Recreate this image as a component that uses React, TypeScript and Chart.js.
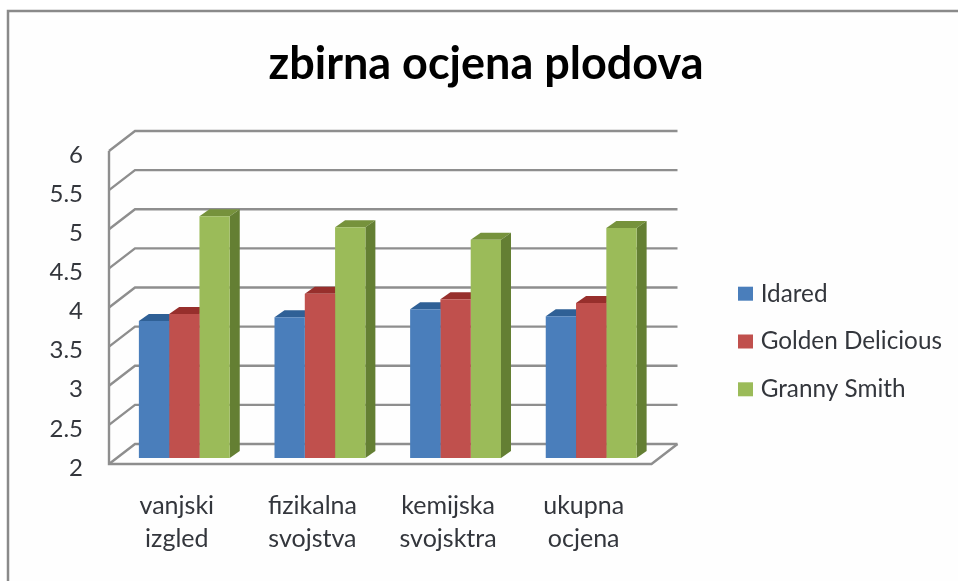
import React, { useEffect, useRef } from "react";
import { Chart, registerables } from "chart.js";

Chart.register(...registerables);

const categories = [["vanjski", "izgled"], ["fizikalna", "svojstva"], ["kemijska", "svojsktra"], ["ukupna", "ocjena"]];
const seriesNames = ["Idared", "Golden Delicious", "Granny Smith"];
const idared = [3.75, 3.8, 3.9, 3.81];
const goldenDelicious = [3.84, 4.1, 4.03, 3.98];
const grannySmith = [5.09, 4.95, 4.79, 4.94];
const frontColors = ["#4a7ebb", "#c0504d", "#9bbb59"];
const topColors = ["#2f6096", "#972f2c", "#76923c"];
const sideColors = ["#3a6699", "#8f3a38", "#647f33"];
const FONT = "Lato, Carlito, 'Noto Sans', sans-serif";
const GRID = "#8e8e8e";
const TEXT = "#33363c";

const DEPTH_X = 26, DEPTH_Y = 20;      // wall depth
const LABEL_SHIFT = -4;                // front plane relative to tick-label centres
const BAR_DX = 7.5, BAR_DY = -10;      // bars stand inside the floor
const FACE_DX = 10, FACE_DY = 7;       // bar depth
const LEGEND_PADDING = 23.5;
const LEGEND_BOX_LEFT = 742.5;
const TITLE_CENTER = 486;

const plugin3d = {
  id: "plugin3d",
  beforeDraw(chart: any) {
    const { ctx, width } = chart;
    ctx.save();
    ctx.fillStyle = "#fefefe";
    ctx.fillRect(8, 11, width - 8, 570);
    ctx.strokeStyle = "#8a8a8a";
    ctx.lineWidth = 2.5;
    ctx.beginPath();
    ctx.moveTo(8, 581);
    ctx.lineTo(8, 11);
    ctx.lineTo(width, 11);
    ctx.stroke();
    ctx.restore();
  },
  afterLayout(chart: any) {
    const lg = chart.legend;
    if (lg) {
      const dx = LEGEND_BOX_LEFT - (lg.left + LEGEND_PADDING);
      lg.left += dx; lg.right = chart.width;
      lg.top += 51; lg.bottom += 51;
    }
    const t = chart.titleBlock;
    if (t) {
      const dx = TITLE_CENTER - (t.left + t.right) / 2;
      t.left += dx; t.right += dx;
    }
  },
  beforeDatasetsDraw(chart: any) {
    const { ctx, chartArea: a, scales } = chart;
    const y = scales.y;
    ctx.save();
    ctx.strokeStyle = GRID;
    ctx.lineWidth = 2.4;
    ctx.lineJoin = "miter";
    y.ticks.forEach((t: any) => {
      const py = y.getPixelForValue(t.value) + LABEL_SHIFT;
      ctx.beginPath();
      ctx.moveTo(a.left, py);
      ctx.lineTo(a.left + DEPTH_X, py - DEPTH_Y);
      ctx.lineTo(a.right + DEPTH_X, py - DEPTH_Y);
      ctx.stroke();
    });
    const bottom = y.getPixelForValue(y.min) + LABEL_SHIFT;
    const top = y.getPixelForValue(y.max) + LABEL_SHIFT;
    ctx.beginPath();
    ctx.moveTo(a.left, top);
    ctx.lineTo(a.left, bottom);
    ctx.lineTo(a.right, bottom);
    ctx.lineTo(a.right + DEPTH_X, bottom - DEPTH_Y);
    ctx.stroke();
    ctx.restore();

    ctx.save();
    ctx.translate(BAR_DX, BAR_DY);
    chart.data.datasets.forEach((_: any, di: number) => {
      const meta = chart.getDatasetMeta(di);
      meta.data.forEach((el: any) => {
        const r = el.x + el.width / 2, l = el.x - el.width / 2;
        ctx.fillStyle = topColors[di];
        ctx.beginPath();
        ctx.moveTo(l, el.y);
        ctx.lineTo(l + FACE_DX, el.y - FACE_DY);
        ctx.lineTo(r + FACE_DX, el.y - FACE_DY);
        ctx.lineTo(r, el.y);
        ctx.closePath();
        ctx.fill();
        ctx.fillStyle = sideColors[di];
        ctx.beginPath();
        ctx.moveTo(r, el.y);
        ctx.lineTo(r + FACE_DX, el.y - FACE_DY);
        ctx.lineTo(r + FACE_DX, el.base - FACE_DY);
        ctx.lineTo(r, el.base);
        ctx.closePath();
        ctx.fill();
      });
    });
  },
  afterDatasetsDraw(chart: any) {
    chart.ctx.restore();
  },
};

export default function App() {
  const ref = useRef<HTMLCanvasElement>(null);
  useEffect(() => {
    document.body.style.margin = "0";
    document.body.style.background = "#ffffff";
    const chart = new Chart(ref.current!, {
      type: "bar",
      plugins: [plugin3d],
      data: {
        labels: categories,
        datasets: [idared, goldenDelicious, grannySmith].map((d, i) => ({
          label: seriesNames[i],
          data: d,
          base: 2,
          backgroundColor: frontColors[i],
          borderWidth: 0,
          categoryPercentage: 0.67,
          barPercentage: 1,
        })),
      },
      options: {
        animation: false,
        responsive: false,
        layout: { padding: { left: 14, right: 94, top: 0, bottom: 0 } },
        plugins: {
          title: {
            display: true,
            text: "zbirna ocjena plodova",
            color: "#000000",
            font: { family: FONT, size: 45, weight: "bold", lineHeight: 1.2 },
            padding: { top: 37, bottom: 64 },
          },
          legend: {
            position: "right",
            labels: {
              color: TEXT,
              font: { family: FONT, size: 24.3 },
              boxWidth: 6,
              boxHeight: 5,
              padding: LEGEND_PADDING,
              generateLabels(chart: any) {
                return Chart.defaults.plugins.legend.labels.generateLabels(chart).map((item: any, i: number) => ({
                  ...item,
                  strokeStyle: frontColors[i],
                  lineWidth: 9,
                }));
              },
            },
          },
          tooltip: { enabled: false },
        },
        scales: {
          x: {
            grid: { display: false, drawTicks: false },
            border: { display: false },
            afterFit(s: any) { s.height = 113; },
            ticks: {
              color: TEXT,
              font: { family: FONT, size: 25, lineHeight: 1.32 },
              padding: 21.5,
              maxRotation: 0,
              autoSkip: false,
            },
          },
          y: {
            min: 2,
            max: 6,
            grid: { display: false, drawTicks: false },
            border: { display: false },
            afterFit(s: any) { s.width = 95; },
            ticks: {
              stepSize: 0.5,
              color: TEXT,
              font: { family: FONT, size: 24 },
              padding: 26,
              callback: (v: any) => String(v),
            },
          },
        },
      },
    } as any);
    return () => chart.destroy();
  }, []);
  return <canvas ref={ref} width={958} height={581} style={{ display: "block", filter: "blur(0.4px)" }} />;
}
